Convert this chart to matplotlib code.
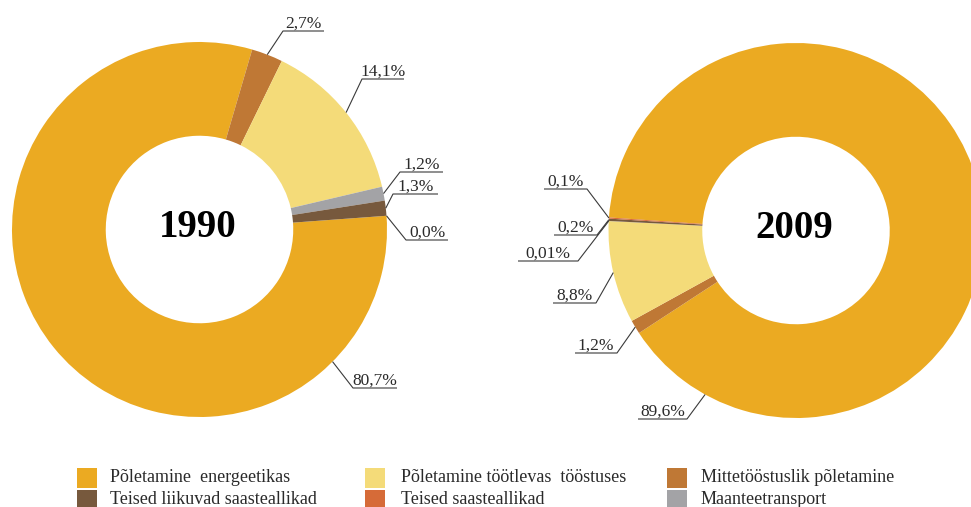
import numpy as np
import matplotlib
matplotlib.use("Agg")
import matplotlib.pyplot as plt
from matplotlib.patches import Rectangle

# ---------------- data ----------------
categories = ["Põletamine  energeetikas", "Põletamine töötlevas  tööstuses",
              "Mittetööstuslik põletamine", "Teised liikuvad saasteallikad",
              "Teised saasteallikad", "Maanteetransport"]
colors = ["#EBAA22", "#F4DB79", "#BF7835", "#77593D", "#D66B38", "#A3A3A6"]

years = ["1990", "2009"]
values_1990 = [80.7, 14.1, 2.7, 1.3, 0.0, 1.2]
values_2009 = [89.6, 8.8, 1.2, 0.2, 0.1, 0.01]
labels_1990 = ["80,7%", "14,1%", "2,7%", "1,3%", "0,0%", "1,2%"]
labels_2009 = ["89,6%", "8,8%", "1,2%", "0,2%", "0,1%", "0,01%"]

# drawing order (clockwise) of categories in the rings
ring_order = [0, 2, 1, 5, 3, 4]

# ---------------- layout ----------------
W, H = 971, 507
fig = plt.figure(figsize=(W / 100, H / 100), dpi=100)
ax = fig.add_axes([0, 0, 1, 1])

serif = ["Liberation Serif", "DejaVu Serif"]

centers = [(199.5, 277.5), (796.0, 276.5)]
radius = 187.5
start_angles = [4.2, 176.0]

# label layout: elbow point (x, y) and underline end x, per category
label_layout = [
    {  # 1990
        0: ((353, 119), 397, -44.8),
        1: ((362, 428), 404, None),
        2: ((283, 476), 324, None),
        3: ((393, 313), 438, None),
        4: ((406, 267), 448, None),
        5: ((400, 335), 443, None),
    },
    {  # 2009
        0: ((687, 88), 638, 241.0),
        1: ((596, 204), 553, None),
        2: ((617, 154), 575, None),
        3: ((597, 272), 554, None),
        4: ((587, 318), 544, None),
        5: ((578, 246), 518, None),
    },
]

all_values = [values_1990, values_2009]
all_labels = [labels_1990, labels_2009]
line_col = "#3a3a3a"

for k in range(2):
    vals = [all_values[k][i] for i in ring_order]
    cols = [colors[i] for i in ring_order]
    cx, cy = centers[k]
    wedges, _ = ax.pie(vals, colors=cols, startangle=start_angles[k],
                       counterclock=False, radius=radius, center=(cx, cy),
                       wedgeprops=dict(width=radius * 0.5, linewidth=0))
    # labels
    for w, idx in zip(wedges, ring_order):
        (ex, ey), ux, anchor = label_layout[k][idx]
        ang = anchor if anchor is not None else 0.5 * (w.theta1 + w.theta2)
        ax_ = cx + radius * np.cos(np.radians(ang))
        ay_ = cy + radius * np.sin(np.radians(ang))
        ax.plot([ax_, ex, ux], [ay_, ey, ey], color=line_col, lw=0.8,
                solid_capstyle="butt")
        ax.text((ex + ux) / 2, ey + 3.5, all_labels[k][idx], ha="center",
                va="baseline", fontsize=12.5, family=serif, color="#2a2a2a")
    ax.text(cx - 1.5, cy + 2, years[k], ha="center", va="center",
            fontsize=28, fontweight="bold", family=serif, color="black")

ax.set_xlim(0, W)
ax.set_ylim(0, H)
ax.set_aspect("equal")
ax.axis("off")

# legend
leg_cols_x = [77, 365, 667]
leg_text_x = [110, 401, 701]
leg_rows_y = [19, -3]  # bottom of patch in y-up pixels
leg_grid = [[0, 3], [1, 4], [2, 5]]
for c in range(3):
    for r in range(2):
        idx = leg_grid[c][r]
        ax.add_patch(Rectangle((leg_cols_x[c], leg_rows_y[r]), 20, 20,
                               facecolor=colors[idx], edgecolor="none",
                               clip_on=False))
        ax.text(leg_text_x[c], leg_rows_y[r] + 6, categories[idx],
                ha="left", va="baseline", fontsize=13, family=serif,
                color="#2a2a2a")

fig.savefig("out.png", dpi=100)
